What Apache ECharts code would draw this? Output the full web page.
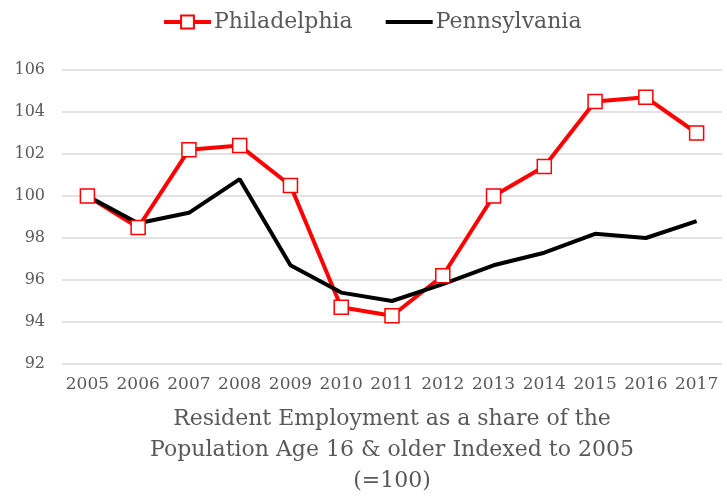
<!DOCTYPE html>
<html>
<head>
<meta charset="utf-8">
<script src="https://cdn.jsdelivr.net/npm/echarts@6/dist/echarts.min.js"></script>
<style>
  html, body { margin: 0; padding: 0; background: #fff; }
  #chart { width: 727px; height: 499px; }
</style>
</head>
<body>
<div id="chart"></div>
<script>
// Employment-to-population index, 2005 = 100
const years = ['2005', '2006', '2007', '2008', '2009', '2010', '2011', '2012', '2013', '2014', '2015', '2016', '2017'];
const philadelphia = [100.0, 98.5, 102.2, 102.4, 100.5, 94.7, 94.3, 96.2, 100.0, 101.4, 104.5, 104.7, 103.0];
const pennsylvania = [100.0, 98.7, 99.2, 100.8, 96.7, 95.4, 95.0, 95.8, 96.7, 97.3, 98.2, 98.0, 98.8];
const yTicks = { min: 92, max: 106, step: 2 };
const axisTitle = 'Resident Employment as a share of the\nPopulation Age 16 & older Indexed to 2005\n(=100)';

const serif = 'DejaVu Serif';
const textGray = '#595959';

const chart = echarts.init(document.getElementById('chart'), null, { renderer: 'canvas' });
chart.setOption({
  animation: false,
  backgroundColor: '#ffffff',
  legend: {
    top: 6,
    left: 157,
    itemWidth: 47,
    itemHeight: 16,
    itemGap: 33,
    textStyle: { fontFamily: serif, fontSize: 22, color: textGray, padding: [0, 0, 0, -2] },
    data: [
      { name: 'Philadelphia', lineStyle: { width: 4 } },
      // plain thick bar for the state line
      { name: 'Pennsylvania', icon: 'path://M0,0 H47 V4 H0 Z', itemStyle: { color: '#000000' } }
    ]
  },
  grid: { left: 62, right: 5, top: 70, bottom: 135, containLabel: false, outerBoundsMode: 'none' },
  xAxis: {
    type: 'category',
    data: years,
    boundaryGap: true,
    axisLine: { show: false },
    axisTick: { show: false },
    axisLabel: { fontFamily: serif, fontSize: 17, color: textGray, margin: 12, interval: 0 },
    name: axisTitle,
    nameLocation: 'middle',
    nameGap: 40,
    nameTextStyle: { fontFamily: serif, fontSize: 22, color: textGray, lineHeight: 31, verticalAlign: 'top' }
  },
  yAxis: {
    type: 'value',
    min: yTicks.min,
    max: yTicks.max,
    interval: yTicks.step,
    axisLine: { show: false },
    axisTick: { show: false },
    axisLabel: { fontFamily: serif, fontSize: 16, color: textGray, margin: 17 },
    splitLine: { lineStyle: { color: '#d9d9d9', width: 1.5 } }
  },
  series: [
    {
      name: 'Philadelphia',
      type: 'line',
      data: philadelphia,
      symbol: 'rect',
      symbolSize: 14,
      showAllSymbol: true,
      lineStyle: { color: '#ff0000', width: 4 },
      itemStyle: { color: '#ffffff', borderColor: '#ff0000', borderWidth: 1.5 },
      emphasis: { disabled: true }
    },
    {
      name: 'Pennsylvania',
      type: 'line',
      data: pennsylvania,
      symbol: 'none',
      lineStyle: { color: '#000000', width: 4 },
      itemStyle: { color: '#000000' },
      emphasis: { disabled: true }
    }
  ]
});
</script>
</body>
</html>
